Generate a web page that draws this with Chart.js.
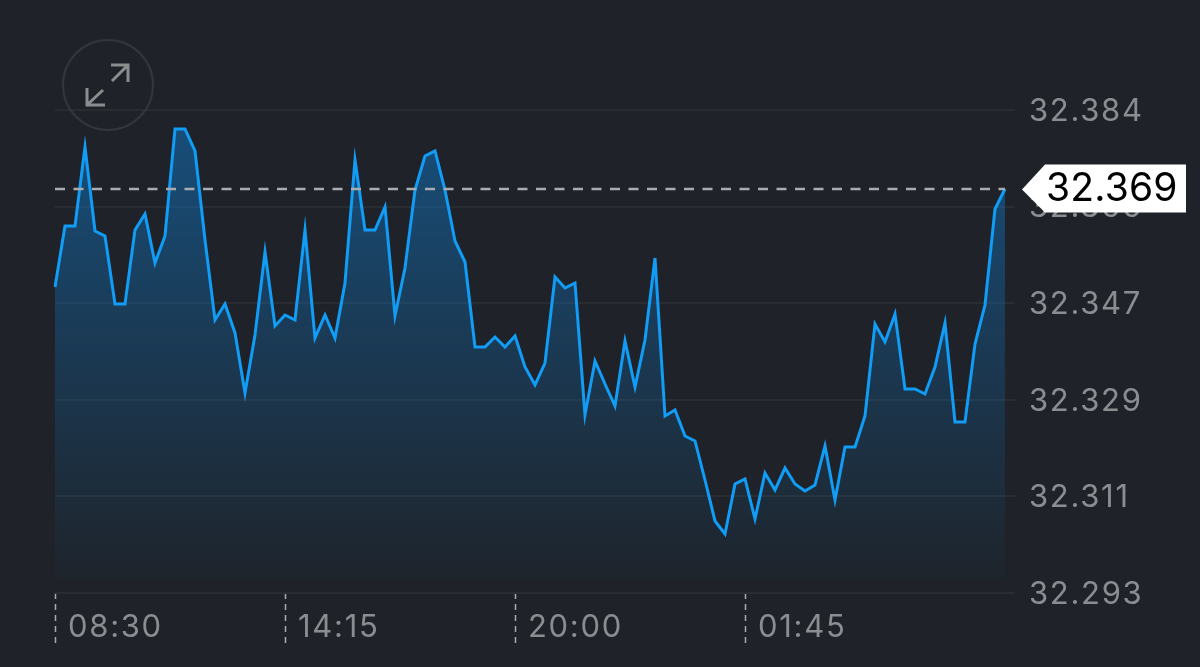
<!DOCTYPE html>
<html lang="en">
<head>
    <meta charset="UTF-8">
    <title>Rate chart</title>
    <style>
        body { margin: 0; background-color: #1f2329; }
        canvas { display: block; }
    </style>
</head>
<body>
    <canvas id="rateChart" width="1200" height="667"></canvas>
    <script src="https://cdn.jsdelivr.net/npm/chart.js"></script>
    <script>
        const times = [
            '08:30','08:45','09:00','09:15','09:30','09:45','10:00','10:15','10:30','10:45','11:00','11:15',
            '11:30','11:45','12:00','12:15','12:30','12:45','13:00','13:15','13:30','13:45','14:00','14:15',
            '14:30','14:45','15:00','15:15','15:30','15:45','16:00','16:15','16:30','16:45','17:00','17:15',
            '17:30','17:45','18:00','18:15','18:30','18:45','19:00','19:15','19:30','19:45','20:00','20:15',
            '20:30','20:45','21:00','21:15','21:30','21:45','22:00','22:15','22:30','22:45','23:00','23:15',
            '23:30','23:45','00:00','00:15','00:30','00:45','01:00','01:15','01:30','01:45','02:00','02:15',
            '02:30','02:45','03:00','03:15','03:30','03:45','04:00','04:15','04:30','04:45','05:00','05:15',
            '05:30','05:45','06:00','06:15','06:30','06:45','07:00','07:15','07:30','07:45','08:00','08:15',''
        ];
        const rates = [
            32.35065, 32.36215, 32.36215, 32.37703, 32.36120, 32.36026, 32.34745, 32.34745, 32.36139, 32.36441,
            32.35517, 32.36026, 32.38042, 32.38042, 32.37628, 32.35951, 32.34444, 32.34745, 32.34199, 32.33068,
            32.34161, 32.35725, 32.34331, 32.34538, 32.34444, 32.36139, 32.34104, 32.34538, 32.34104, 32.35141,
            32.37458, 32.36139, 32.36139, 32.36573, 32.34519, 32.35423, 32.36893, 32.37533, 32.37628, 32.36893,
            32.35932, 32.35536, 32.33935, 32.33935, 32.34123, 32.33935, 32.34142, 32.33558, 32.33219, 32.33633,
            32.35254, 32.35046, 32.35141, 32.32654, 32.33671, 32.33238, 32.32823, 32.34048, 32.33181, 32.34067,
            32.35612, 32.32635, 32.32748, 32.32258, 32.32164, 32.31429, 32.30657, 32.30412, 32.31354, 32.31448,
            32.30694, 32.31561, 32.31241, 32.31655, 32.31354, 32.31222, 32.31335, 32.32070, 32.31052, 32.32051,
            32.32051, 32.32635, 32.34368, 32.34029, 32.34557, 32.33144, 32.33144, 32.33049, 32.33558, 32.34387,
            32.32522, 32.32522, 32.33991, 32.34726, 32.36535, 32.36912
        ];
        const timeLabels = ['08:30', '14:15', '20:00', '01:45'];
        const rateTicks = [32.384, 32.3658, 32.3476, 32.3294, 32.3112, 32.293];
        const rateLabels = ['32.384', '32.366', '32.347', '32.329', '32.311', '32.293'];
        const lastRate = 32.369;
        const lastRateLabel = '32.369';
        const areaFloor = 32.2958;

        const grey = '#8b8d91';

        // dashed last price line, the white tag and the expand button
        const overlay = {
            id: 'overlay',
            beforeDraw(chart) {
                // the reference text is set wider than plain Inter
                chart.ctx.letterSpacing = '1.7px';
            },
            afterDatasetsDraw(chart) {
                const ctx = chart.ctx;
                const y = chart.scales.y.getPixelForValue(lastRate);
                const x0 = chart.scales.x.getPixelForValue(0);
                const x1 = chart.scales.x.getPixelForValue(rates.length - 1);

                ctx.save();
                ctx.strokeStyle = '#a9abae';
                ctx.lineWidth = 2.5;
                ctx.setLineDash([10, 8.5]);
                ctx.beginPath();
                ctx.moveTo(x0, y - 0.5);
                ctx.lineTo(x1, y - 0.5);
                ctx.stroke();
                ctx.setLineDash([]);

                ctx.fillStyle = '#fff';
                ctx.beginPath();
                ctx.moveTo(1022, y);
                ctx.lineTo(1045, y - 25);
                ctx.lineTo(1186, y - 25);
                ctx.lineTo(1186, y + 23);
                ctx.lineTo(1045, y + 23);
                ctx.closePath();
                ctx.fill();

                ctx.fillStyle = '#000';
                ctx.font = '39px Inter';
                ctx.letterSpacing = '0.2px';
                ctx.textAlign = 'left';
                ctx.textBaseline = 'middle';
                ctx.fillText(lastRateLabel, 1046, y);
                ctx.letterSpacing = '1.7px';

                // expand button
                ctx.strokeStyle = '#33363b';
                ctx.lineWidth = 2;
                ctx.beginPath();
                ctx.arc(108, 85, 45, 0, Math.PI * 2);
                ctx.stroke();

                ctx.strokeStyle = '#8c8d8f';
                ctx.lineWidth = 3;
                ctx.beginPath();
                ctx.moveTo(111, 65); ctx.lineTo(128, 65); ctx.lineTo(128, 82);
                ctx.moveTo(112, 81); ctx.lineTo(128, 65);
                ctx.moveTo(87, 88); ctx.lineTo(87, 105); ctx.lineTo(105, 105);
                ctx.moveTo(87, 105); ctx.lineTo(103, 90);
                ctx.stroke();
                ctx.restore();
            }
        };

        new Chart(document.getElementById('rateChart'), {
            type: 'line',
            data: {
                labels: times,
                datasets: [{
                    data: rates,
                    borderColor: '#119cf6',
                    borderWidth: 3,
                    borderJoinStyle: 'miter',
                    pointRadius: 0,
                    tension: 0,
                    fill: { value: areaFloor },
                    backgroundColor(context) {
                        const { ctx, chartArea, scales } = context.chart;
                        if (!chartArea) return 'transparent';
                        const g = ctx.createLinearGradient(0, scales.y.getPixelForValue(32.3804), 0, scales.y.getPixelForValue(areaFloor));
                        g.addColorStop(0, 'rgba(15, 130, 220, 0.45)');
                        g.addColorStop(1, 'rgba(15, 130, 220, 0.02)');
                        return g;
                    }
                }]
            },
            options: {
                responsive: false,
                animation: false,
                layout: { padding: { left: 55, top: 110, right: 0, bottom: 0 } },
                plugins: { legend: { display: false }, tooltip: { enabled: false } },
                scales: {
                    x: {
                        border: { display: false },
                        grid: {
                            drawOnChartArea: false,
                            tickLength: 52,
                            tickColor: '#a9abae',
                            tickWidth: 1.5,
                            tickBorderDash: [6, 5]
                        },
                        afterBuildTicks(scale) {
                            scale.ticks = timeLabels.map(t => ({ value: times.indexOf(t) }));
                        },
                        afterFit(scale) { scale.height = 74; },
                        ticks: {
                            autoSkip: false,
                            maxRotation: 0,
                            align: 'start',
                            labelOffset: 13,
                            padding: -36,
                            color: grey,
                            font: { family: 'Inter', size: 31 }
                        }
                    },
                    y: {
                        position: 'right',
                        min: 32.293,
                        max: 32.384,
                        border: { display: false },
                        grid: { color: '#292c31', lineWidth: 2, drawTicks: false },
                        afterBuildTicks(scale) {
                            scale.ticks = rateTicks.map(v => ({ value: v }));
                        },
                        afterFit(scale) { scale.width = 185; },
                        ticks: {
                            padding: 14,
                            labelOffset: 1.5,
                            color: grey,
                            font: { family: 'Inter', size: 31 },
                            callback(value, i) { return rateLabels[i]; }
                        }
                    }
                }
            },
            plugins: [overlay]
        });
    </script>
</body>
</html>
